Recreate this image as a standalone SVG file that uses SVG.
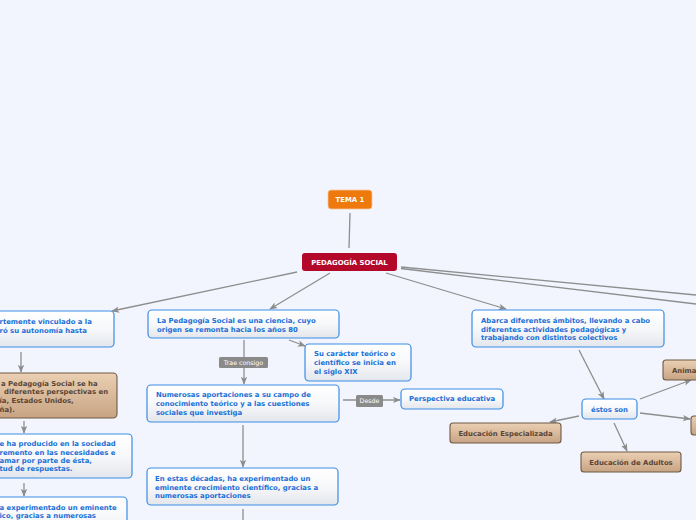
<svg xmlns="http://www.w3.org/2000/svg" width="696" height="520" viewBox="0 0 696 520">
<defs>
<linearGradient id="gb" x1="0" y1="0" x2="0" y2="1"><stop offset="0" stop-color="#ffffff"/><stop offset="0.5" stop-color="#f7f8fa"/><stop offset="1" stop-color="#e3e6eb"/></linearGradient>
<linearGradient id="gt" x1="0" y1="0" x2="0" y2="1"><stop offset="0" stop-color="#ebd0b3"/><stop offset="1" stop-color="#c7a383"/></linearGradient>
<marker id="ar" viewBox="0 0 10 8" refX="9" refY="4" markerWidth="8" markerHeight="7" markerUnits="userSpaceOnUse" orient="auto"><path d="M0,0 L10,4 L0,8 L2.5,4 z" fill="#8c8c8c"/></marker>
</defs>
<style>
.ln{stroke:#8e8e8e;stroke-width:1.3;fill:none}
.bn{fill:url(#gb);stroke:#3a8de6;stroke-width:1.2}
.tn{fill:url(#gt);stroke:#6f5a47;stroke-width:1.1}
.t{font-family:"DejaVu Sans",Verdana,sans-serif;font-weight:bold;font-size:6.9px}
.bt{fill:#1a6fd6}
.tt{fill:#5a4535}
.wt{fill:#ffffff}
.lb{fill:#8a8a8a}
.lt{font-family:"DejaVu Sans",Verdana,sans-serif;font-size:6.3px;fill:#ffffff}
</style>
<rect width="696" height="520" fill="#f2f5fe"/>
<g id="connectors">
<line class="ln" x1="350" y1="213" x2="349" y2="248"/>
<line class="ln" x1="297" y1="272" x2="112" y2="311" marker-end="url(#ar)"/>
<line class="ln" x1="330" y1="273" x2="270" y2="309" marker-end="url(#ar)"/>
<line class="ln" x1="386" y1="273" x2="506" y2="309" marker-end="url(#ar)"/>
<line class="ln" x1="401" y1="267" x2="696" y2="295"/>
<line class="ln" x1="401" y1="268.5" x2="696" y2="304"/>
<line class="ln" x1="21" y1="352" x2="21" y2="372" marker-end="url(#ar)"/>
<line class="ln" x1="24" y1="421" x2="24" y2="433" marker-end="url(#ar)"/>
<line class="ln" x1="24" y1="483" x2="24" y2="496" marker-end="url(#ar)"/>
<line class="ln" x1="244" y1="340" x2="244" y2="384" marker-end="url(#ar)"/>
<line class="ln" x1="289" y1="340" x2="305" y2="346" marker-end="url(#ar)"/>
<line class="ln" x1="343" y1="400" x2="400" y2="400" marker-end="url(#ar)"/>
<line class="ln" x1="243" y1="425" x2="243" y2="467" marker-end="url(#ar)"/>
<line class="ln" x1="243" y1="509" x2="243" y2="521"/>
<line class="ln" x1="579" y1="350" x2="604" y2="399" marker-end="url(#ar)"/>
<line class="ln" x1="579" y1="416" x2="550" y2="422" marker-end="url(#ar)"/>
<line class="ln" x1="614" y1="423" x2="627" y2="451" marker-end="url(#ar)"/>
<line class="ln" x1="640" y1="399" x2="691" y2="380" marker-end="url(#ar)"/>
<line class="ln" x1="640" y1="413" x2="690" y2="419" marker-end="url(#ar)"/>
<rect class="lb" x="219" y="357" width="49" height="11" rx="1.5"/>
<text class="lt" x="243.5" y="364.8" text-anchor="middle">Trae consigo</text>
<rect class="lb" x="356" y="395" width="27" height="12" rx="1.5"/>
<text class="lt" x="369.5" y="403.2" text-anchor="middle">Desde</text>
</g>
<g id="tema1">
<rect x="328" y="190" width="44" height="19" rx="3" fill="#ee7a0d" stroke="#f6c79a" stroke-width="0.8"/>
<text class="t wt" x="350" y="202.3" text-anchor="middle">TEMA 1</text>
</g>
<g id="pedagogia-social">
<rect x="302" y="253" width="95" height="18" rx="3" fill="#b4082b"/>
<text class="t wt" x="349.5" y="264.6" text-anchor="middle">PEDAGOGÍA SOCIAL</text>
</g>
<g id="left1">
<rect class="bn" x="-100" y="311" width="214" height="36" rx="4"/>
<text class="t bt" x="-0.5" y="324">rtemente vinculado a la</text>
<text class="t bt" x="-0.5" y="332.5">ró su autonomía hasta</text>
</g>
<g id="left2">
<rect class="tn" x="-100" y="373" width="217" height="45" rx="4"/>
<text class="t tt" x="1" y="385.6">a Pedagogía Social se ha</text>
<text class="t tt" x="4" y="394.3">diferentes perspectivas en</text>
<text class="t tt" x="-0.5" y="403">ía, Estados Unidos,</text>
<text class="t tt" x="-0.5" y="411.7">ña).</text>
</g>
<g id="left3">
<rect class="bn" x="-100" y="434" width="232" height="44" rx="4"/>
<text class="t bt" x="-0.5" y="446.4">e ha producido en la sociedad</text>
<text class="t bt" x="-0.5" y="454.7">remento en las necesidades e</text>
<text class="t bt" x="-0.5" y="463">amar por parte de ésta,</text>
<text class="t bt" x="-0.5" y="471.4">tud de respuestas.</text>
</g>
<g id="left4">
<rect class="bn" x="-100" y="497" width="227" height="40" rx="4"/>
<text class="t bt" x="-0.5" y="509.7">a experimentado un eminente</text>
<text class="t bt" x="-0.5" y="518.4">ico, gracias a numerosas</text>
</g>
<g id="la-pedagogia">
<rect class="bn" x="148" y="310" width="191" height="28" rx="4"/>
<text class="t bt" x="157" y="323">La Pedagogía Social es una ciencia, cuyo</text>
<text class="t bt" x="157" y="331.5">origen se remonta hacia los años 80</text>
</g>
<g id="su-caracter">
<rect class="bn" x="305" y="344" width="106" height="37" rx="4"/>
<text class="t bt" x="314" y="356.4">Su carácter teórico o</text>
<text class="t bt" x="314" y="365">científico se inicia en</text>
<text class="t bt" x="314" y="373.7">el siglo XIX</text>
</g>
<g id="numerosas">
<rect class="bn" x="147" y="385" width="192" height="37" rx="4"/>
<text class="t bt" x="156" y="397.4">Numerosas aportaciones a su campo de</text>
<text class="t bt" x="156" y="406">conocimiento teórico y a las cuestiones</text>
<text class="t bt" x="156" y="415">sociales que investiga</text>
</g>
<g id="perspectiva">
<rect class="bn" x="401" y="389" width="102" height="20" rx="4"/>
<text class="t bt" x="452" y="401.4" text-anchor="middle">Perspectiva educativa</text>
</g>
<g id="en-estas">
<rect class="bn" x="147" y="468" width="191" height="37" rx="4"/>
<text class="t bt" x="155" y="481.4">En estas décadas, ha experimentado un</text>
<text class="t bt" x="155" y="490">eminente crecimiento científico, gracias a</text>
<text class="t bt" x="155" y="498.4">numerosas aportaciones</text>
</g>
<g id="abarca">
<rect class="bn" x="472" y="310" width="192" height="37" rx="4"/>
<text class="t bt" x="481" y="323">Abarca diferentes ámbitos, llevando a cabo</text>
<text class="t bt" x="481" y="331.5">diferentes actividades pedagógicas y</text>
<text class="t bt" x="481" y="340">trabajando con distintos colectivos</text>
</g>
<g id="estos-son">
<rect class="bn" x="582" y="399" width="55" height="20" rx="4"/>
<text class="t bt" x="609.5" y="411.5" text-anchor="middle">éstos son</text>
</g>
<g id="ed-especializada">
<rect class="tn" x="450" y="423" width="111" height="20" rx="3"/>
<text class="t tt" x="505.5" y="435.5" text-anchor="middle">Educación Especializada</text>
</g>
<g id="ed-adultos">
<rect class="tn" x="581" y="452" width="100" height="20" rx="3"/>
<text class="t tt" x="631" y="464.5" text-anchor="middle">Educación de Adultos</text>
</g>
<g id="animacion">
<rect class="tn" x="663" y="360" width="60" height="20" rx="3"/>
<text class="t tt" x="672" y="372.5">Anima</text>
</g>
<g id="right-node">
<rect class="tn" x="691" y="416" width="40" height="19" rx="3"/>
</g>
</svg>
